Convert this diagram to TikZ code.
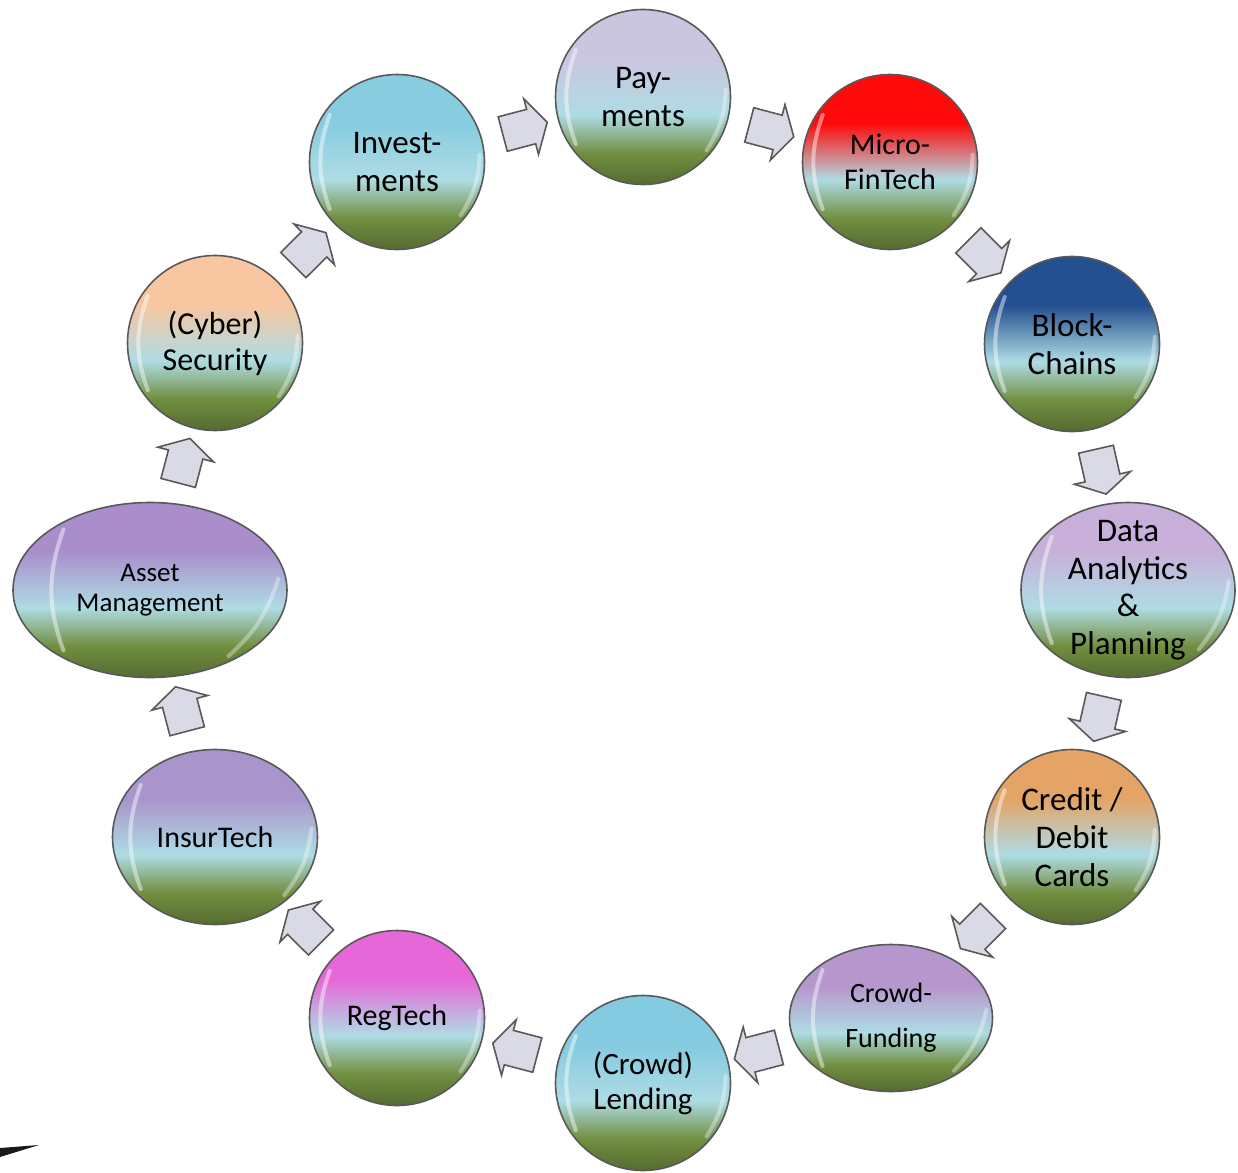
\documentclass[tikz,border=0pt]{standalone}
\usepackage{fontspec}
\setmainfont{Carlito}
\usetikzlibrary{shapes.geometric,shapes.arrows,calc}
\definecolor{bubgreen}{HTML}{718F40}
\definecolor{bubblue}{HTML}{AEDCE4}
\definecolor{stepfill}{HTML}{D9DAE6}
\definecolor{paytop}{HTML}{CAC6E0}
\definecolor{microtop}{HTML}{FF0A0A}
\definecolor{blocktop}{HTML}{24508F}
\definecolor{datatop}{HTML}{C8B0DA}
\definecolor{credittop}{HTML}{E4A466}
\definecolor{crowdtop}{HTML}{B696CC}
\definecolor{lendtop}{HTML}{84CAE0}
\definecolor{regtop}{HTML}{E668D8}
\definecolor{insurtop}{HTML}{A994CB}
\definecolor{assettop}{HTML}{A98ECB}
\definecolor{cybertop}{HTML}{F8C6A0}
\definecolor{investtop}{HTML}{88CCE0}
\colorlet{bubtop}{white}
\pgfdeclareverticalshading[bubtop]{bubble}{100bp}{color(0bp)=(bubgreen!75!black); color(25bp)=(bubgreen!75!black); color(34bp)=(bubgreen); color(45bp)=(bubblue); color(61bp)=(bubtop); color(100bp)=(bubtop)}
\begin{document}
\begin{tikzpicture}[x=1pt, y=-1pt,
  bubble/.style={circle, draw=black!65, line width=1.6pt, minimum size=175pt, inner sep=0pt, align=center, shade, shading=bubble, font=\fontsize{33}{38}\selectfont},
  oval/.style={bubble, ellipse},
  tint/.code={\colorlet{bubtop}{#1}},
  gloss/.style={white, opacity=.45, line width=4pt, line cap=round},
  stepper/.style={single arrow, draw=black!65, fill=stepfill, line width=1.6pt, minimum height=46pt, inner xsep=0pt, inner ysep=17pt, single arrow head extend=11pt, single arrow tip angle=120, sloped, allow upside down}]
\useasboundingbox (0,0) rectangle (1238,1172);
\node [bubble, tint=paytop] (pay) at (643,97) {Pay-\\ments};
\node [bubble, tint=microtop, font=\fontsize{30}{35}\selectfont] (micro) at (890,162) {Micro-\\FinTech};
\node [bubble, tint=blocktop] (block) at (1072,344) {Block-\\Chains};
\node [oval, tint=datatop, minimum width=214pt, inner sep=-16pt, font=\fontsize{33}{37.5}\selectfont] (data) at (1128,590) {Data\\Analytics\\\&\\Planning};
\node [bubble, tint=credittop] (credit) at (1072,837) {Credit /\\Debit\\Cards};
\node [oval, tint=crowdtop, minimum width=203pt, minimum height=147pt, font=\fontsize{28}{45}\selectfont] (crowd) at (891,1018) {Crowd-\\Funding};
\node [bubble, tint=lendtop, font=\fontsize{31}{35}\selectfont] (lend) at (643,1083) {(Crowd)\\Lending};
\node [bubble, tint=regtop, font=\fontsize{30}{35}\selectfont] (reg) at (397,1018) {RegTech};
\node [oval, tint=insurtop, minimum width=205pt, font=\fontsize{30}{35}\selectfont] (insur) at (215,837) {InsurTech};
\node [oval, tint=assettop, minimum width=274pt, font=\fontsize{27}{30}\selectfont] (asset) at (150,590) {Asset\\Management};
\node [bubble, tint=cybertop, font=\fontsize{32}{36}\selectfont] (cyber) at (215,343) {(Cyber)\\Security};
\node [bubble, tint=investtop] (invest) at (397,162) {Invest-\\ments};
% shine on the rims
\foreach \n in {pay,micro,block,data,credit,crowd,lend,reg,insur,asset,cyber,invest} {
  \draw [gloss] ($(\n.145)!.07!(\n.center)$) to[bend right=20] ($(\n.215)!.07!(\n.center)$);
  \draw [gloss, opacity=.35] ($(\n.-40)!.06!(\n.center)$) to[bend right=15] ($(\n.5)!.06!(\n.center)$);
}
\path
	(invest) -- node [stepper] (s1) {} (pay)
	(pay) -- node [stepper] (s2) {} (micro)
	(micro) -- node [stepper] (s3) {} (block)
	(block) -- node [stepper] (s4) {} (data)
	(data) -- node [stepper] (s5) {} (credit)
	(credit) -- node [stepper] (s6) {} (crowd)
	(crowd) -- node [stepper] (s7) {} (lend)
	(lend) -- node [stepper] (s8) {} (reg)
	(reg) -- node [stepper] (s9) {} (insur)
	(insur) -- node [stepper] (s10) {} (asset)
	(asset) -- node [stepper] (s11) {} (cyber)
	(cyber) -- node [stepper] (s12) {} (invest)
	;
\fill [black!90] (0,1148) .. controls (20,1147) .. (39,1145) -- (0,1157) -- cycle;
\end{tikzpicture}
\end{document}
